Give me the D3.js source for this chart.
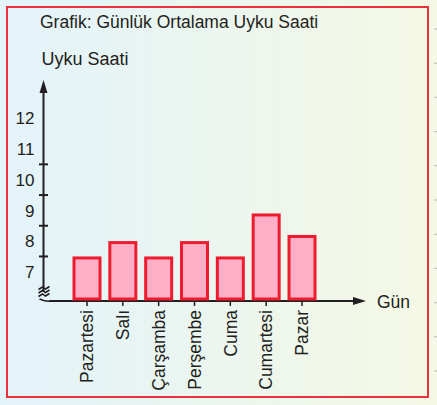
<!DOCTYPE html>
<html><head><meta charset="utf-8">
<script src="https://cdn.jsdelivr.net/npm/d3@7"></script>
<style>html,body{margin:0;padding:0;overflow:hidden;}svg{display:block;}</style>
</head><body>
<script>
const days = ["Pazartesi","Salı","Çarşamba","Perşembe","Cuma","Cumartesi","Pazar"];
const hours = [7.5, 8, 7.5, 8, 7.5, 8.9, 8.2];
const tickLabels = [7, 8, 9, 10, 11, 12];
const tickMarks = [7.5, 8.5, 9.5, 10.5];
const title = "Grafik: Günlük Ortalama Uyku Saati";
const yTitle = "Uyku Saati";
const xTitle = "Gün";

const W = 437, H = 405;
const font = "'Liberation Sans', Arial, sans-serif";
const ink = "#231f20";
const svg = d3.select("body").append("svg").attr("width", W).attr("height", H);

const defs = svg.append("defs");
const g = defs.append("linearGradient").attr("id","bg").attr("x1","0").attr("x2","1").attr("y1","0").attr("y2","0");
g.append("stop").attr("offset","0").attr("stop-color","#e3f3fa");
g.append("stop").attr("offset","1").attr("stop-color","#f5f8e4");
svg.append("rect").attr("width",W).attr("height",H).attr("fill","url(#bg)");

// faint ruler marks on the right page edge
d3.range(11).forEach(i => {
  const yy = 29 + i*34.2;
  svg.append("line").attr("x1",434).attr("x2",437).attr("y1",yy).attr("y2",yy)
    .attr("stroke","#9aa0a0").attr("stroke-width",1).attr("opacity",0.7);
});

svg.append("rect").attr("x",7).attr("y",7).attr("width",421).attr("height",390)
  .attr("fill","none").attr("stroke","#e8323c").attr("stroke-width",2);

const x = d3.scalePoint().domain(days).range([87, 302]);
const y = d3.scaleLinear().domain([6, 12]).range([302.5, 118.3]);
const axisX = 43.5, axisY = 301;
const barW = 29, sw = 3;

// texts
svg.append("text").attr("x",40).attr("y",27.5).attr("font-family",font).attr("font-size",17.5)
  .attr("fill",ink).text(title);
svg.append("text").attr("x",41.5).attr("y",65).attr("font-family",font).attr("font-size",18)
  .attr("fill",ink).text(yTitle);
svg.append("text").attr("x",377).attr("y",308).attr("font-family",font).attr("font-size",17.5)
  .attr("fill",ink).text(xTitle);

// y axis
svg.append("line").attr("x1",axisX).attr("x2",axisX).attr("y1",90).attr("y2",292)
  .attr("stroke",ink).attr("stroke-width",2);
svg.append("path").attr("d",`M${axisX},80 L${axisX-4},93 L${axisX+4},93 Z`).attr("fill",ink);
svg.selectAll(".ytick").data(tickMarks).join("line")
  .attr("x1",axisX-4.5).attr("x2",axisX+4.5)
  .attr("y1",d=>y(d)).attr("y2",d=>y(d)).attr("stroke",ink).attr("stroke-width",2);
svg.selectAll(".ylab").data(tickLabels).join("text")
  .attr("x",34.5).attr("y",d=>y(d)).attr("dy","0.36em").attr("text-anchor","end")
  .attr("font-family",font).attr("font-size",17).attr("fill",ink).text(d=>d);

// break squiggle
const sq = [288, 291.5, 295];
sq.forEach(s => {
  svg.append("path").attr("d",`M${axisX-5},${s+1.5} L${axisX-1},${s-1} L${axisX+2},${s+1} L${axisX+6},${s-1.5}`)
    .attr("fill","none").attr("stroke",ink).attr("stroke-width",1.5);
});
svg.append("path").attr("d",`M${axisX-4},${axisY-2} Q${axisX+3},${axisY+1} ${axisX+8},${axisY}`)
  .attr("fill","none").attr("stroke",ink).attr("stroke-width",1.5);

// x axis
svg.append("line").attr("x1",49).attr("x2",357).attr("y1",axisY).attr("y2",axisY)
  .attr("stroke",ink).attr("stroke-width",2);
svg.append("path").attr("d",`M366,${axisY} L353,${axisY-4} L353,${axisY+4} Z`).attr("fill",ink);
svg.selectAll(".xtick").data(days).join("line")
  .attr("x1",d=>x(d)).attr("x2",d=>x(d)).attr("y1",297).attr("y2",306)
  .attr("stroke",ink).attr("stroke-width",1.5);

// bars
svg.selectAll(".bar").data(days).join("rect")
  .attr("x",d=>x(d)-barW/2+sw/2)
  .attr("width",barW-sw)
  .attr("y",(d,i)=>y(hours[i])+sw/2)
  .attr("height",(d,i)=>300.5-sw/2-(y(hours[i])+sw/2))
  .attr("fill","#fdafc7").attr("stroke","#ee1c2e").attr("stroke-width",sw);

// day labels
svg.selectAll(".xlab").data(days).join("text")
  .attr("transform",d=>`translate(${x(d)},310) rotate(-90)`)
  .attr("dy","0.36em").attr("text-anchor","end")
  .attr("font-family",font).attr("font-size",17.5).attr("fill",ink).text(d=>d);
</script>
</body></html>
